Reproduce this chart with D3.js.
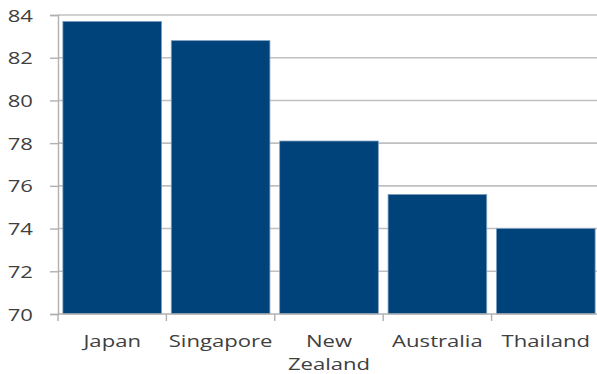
<!DOCTYPE html>
<html>
<head>
<meta charset="utf-8">
<script src="https://cdn.jsdelivr.net/npm/d3@7"></script>
<style>
  html, body { margin: 0; padding: 0; background: #fff; }
  svg { display: block; }
  text { font-family: "Open Sans", "DejaVu Sans", sans-serif; fill: #404040; }
</style>
</head>
<body>
<svg id="chart" width="597" height="374"></svg>
<script>
// Life expectancy by country (years)
const countries = ["Japan", "Singapore", "New Zealand", "Australia", "Thailand"];
const lifeExpectancy = [83.7, 82.8, 78.1, 75.6, 74.0];
const yTicks = [70, 72, 74, 76, 78, 80, 82, 84];

const svg = d3.select("#chart");
const margin = { top: 15, right: -3, bottom: 60, left: 58 };
const width = 597 - margin.left - margin.right;
const height = 374 - margin.top - margin.bottom;
const stretch = 1.3; // wide lettering

const g = svg.append("g").attr("transform", `translate(${margin.left},${margin.top})`);

const x = d3.scaleBand().domain(countries).range([0, width]).paddingInner(0.09).paddingOuter(0.045);
const y = d3.scaleLinear().domain([70, 84]).range([height, 0]);

// horizontal gridlines
g.append("g")
  .selectAll("line")
  .data(yTicks.filter(t => t > 70))
  .join("line")
  .attr("x1", 0).attr("x2", width)
  .attr("y1", d => y(d)).attr("y2", d => y(d))
  .attr("stroke", "#c0c0c0").attr("stroke-width", 1.6);

// bars
g.append("g")
  .selectAll("rect")
  .data(countries)
  .join("rect")
  .attr("x", d => x(d))
  .attr("width", x.bandwidth())
  .attr("y", (d, i) => y(lifeExpectancy[i]))
  .attr("height", (d, i) => height - y(lifeExpectancy[i]))
  .attr("fill", "#00427a")
  .attr("stroke", "#7f9fbf").attr("stroke-width", 0.8);

// y axis
const yAxis = g.append("g")
  .call(d3.axisLeft(y).tickValues(yTicks).tickSize(8).tickFormat(d3.format("d")));
yAxis.select(".domain").attr("stroke", "#b0b0b0").attr("stroke-width", 1.4);
yAxis.selectAll(".tick line").attr("stroke", "#b0b0b0").attr("stroke-width", 1.4);
yAxis.selectAll(".tick text")
  .attr("x", 0).attr("dy", "0.36em")
  .attr("font-size", 17)
  .attr("transform", `translate(-25,0) scale(${stretch},1)`)
  .style("fill", "#404040");

// x axis with boundary ticks
const xAxisG = g.append("g").attr("transform", `translate(0,${height})`);
xAxisG.append("line").attr("x1", 0).attr("x2", width).attr("stroke", "#b0b0b0").attr("stroke-width", 1.4);
const step = x.step();
const bounds = d3.range(countries.length + 1).map(i => x(countries[0]) - step * x.paddingInner() / 2 + i * step);
xAxisG.selectAll("line.tk")
  .data(bounds)
  .join("line").attr("class", "tk")
  .attr("x1", d => d).attr("x2", d => d)
  .attr("y1", 0).attr("y2", 7)
  .attr("stroke", "#b0b0b0").attr("stroke-width", 1.4);

xAxisG.selectAll("text.lbl")
  .data(countries)
  .join("text").attr("class", "lbl")
  .attr("text-anchor", "middle")
  .attr("font-size", 17)
  .attr("transform", d => `translate(${x(d) + x.bandwidth() / 2},33) scale(${stretch},1)`)
  .each(function(d) {
    const words = d === "New Zealand" ? ["New", "Zealand"] : [d];
    d3.select(this).selectAll("tspan")
      .data(words)
      .join("tspan")
      .attr("x", 0)
      .attr("dy", (w, i) => i === 0 ? 0 : 23)
      .text(w => w);
  });
</script>
</body>
</html>
